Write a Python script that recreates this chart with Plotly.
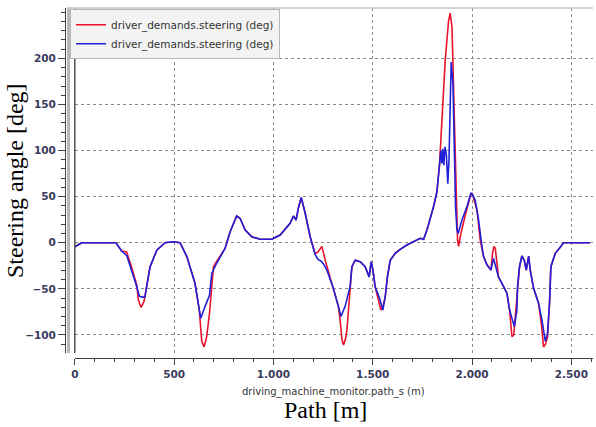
import plotly.graph_objects as go

# ---- data (path in m, steering angle in deg) ----
blue_s = [0, 35, 207, 236, 262, 287, 312, 325, 340, 353, 362, 379, 413, 454, 496, 530,
          564, 605, 627, 634, 656, 678, 690, 715, 757, 782, 815, 832, 857, 891, 933, 992,
          1034, 1084, 1101, 1114, 1126, 1140, 1160, 1185, 1210, 1225, 1240, 1255, 1270, 1302,
          1327, 1340, 1361, 1386, 1395, 1412, 1437, 1462, 1482, 1492, 1501, 1512, 1534,
          1551, 1563, 1574, 1588, 1613, 1638, 1672, 1739, 1756, 1773, 1806, 1823, 1836,
          1843, 1848, 1853, 1858, 1864, 1871, 1878, 1884, 1891, 1895, 1904, 1910, 1917,
          1924, 1930, 1949, 1974, 1994, 2000, 2016, 2033, 2050, 2058, 2075, 2095, 2108,
          2117, 2133, 2159, 2176, 2189, 2196, 2213, 2226, 2229, 2239, 2251, 2263, 2273,
          2285, 2293, 2310, 2335, 2352, 2369, 2380, 2390, 2397, 2419, 2436, 2461, 2595]
blue_deg = [-4.3, 0, 0, -9, -14, -29.6, -47.7, -58, -59, -59, -47.7, -26, -8, 0, 1, 0,
            -15, -44, -73, -82, -69, -57, -33, -22, -6, 12, 29, 26.5, 14, 6.5, 3.7, 3.7,
            8.4, 21, 29, 24.6, 38, 49, 32, 6.5, -13, -18, -20, -24, -30, -49.5,
            -69, -80, -69, -47.7, -26, -19, -20.6, -26, -37, -20.6, -29.6, -47.7, -60,
            -73, -58.6, -37, -19, -11.5, -7.2, -2.5, 4.8, 3.7, 13.8, 39, 55, 84,
            100, 86, 102, 84, 104, 95, 64, 90, 155, 196, 173, 111, 39,
            14, 10, 24.6, 39, 53.6, 53, 46, 24.6, -4.3, -15, -24, -29.6, -17,
            -24, -37, -47.7, -55, -73, -78.4, -91, -73, -47.7, -26, -14.4, -19, -29.6,
            -14.4, -29.6, -49.5, -65.7, -84, -107, -98, -65.7, -26, -11.5, -7.2, 0, 0]

red_s = [0, 35, 207, 236, 261, 287, 312, 320, 333, 342, 349, 362, 379, 413, 454, 496, 530,
         564, 605, 627, 639, 651, 664, 678, 690, 698, 715, 757, 782, 815, 832, 857, 891,
         933, 992, 1034, 1084, 1101, 1114, 1126, 1140, 1160, 1185, 1210, 1225, 1244, 1262,
         1280, 1302, 1327, 1336, 1345, 1353, 1362, 1370, 1383, 1390, 1395, 1412, 1437,
         1462, 1482, 1492, 1501, 1512, 1530, 1541, 1551, 1563, 1574, 1588, 1613, 1638,
         1672, 1739, 1756, 1773, 1806, 1823, 1836, 1840, 1853, 1865, 1882, 1890, 1899,
         1907, 1915, 1920, 1927, 1932, 1944, 1966, 1991, 2000, 2025, 2041, 2058, 2075,
         2095, 2103, 2110, 2117, 2125, 2133, 2159, 2176, 2189, 2196, 2201, 2210, 2221,
         2229, 2239, 2251, 2263, 2273, 2285, 2293, 2310, 2335, 2350, 2360, 2370, 2380,
         2390, 2397, 2419, 2436, 2461, 2595]
red_deg = [-4.3, 0, 0, -9, -10, -27, -46, -62, -70, -67, -63, -47, -26, -8, 0, 1, 0,
           -15, -44, -73, -107, -113, -102, -77, -40, -26, -20, -6, 12, 29, 26.5, 14, 6.5,
           3.7, 3.7, 8.4, 21, 29, 24.6, 38, 49, 32, 6.5, -12, -10, -4, -20,
           -33, -49, -69, -84, -105, -111, -105, -95, -58, -33, -26, -19, -20.6,
           -26, -37, -20.6, -29.6, -47.7, -62, -73, -70, -58.6, -37, -19, -11.5, -7.2,
           -2.5, 4.8, 3.7, 13.8, 39, 55, 84, 100, 144, 198, 241, 249, 234,
           173, 100, 46, 3, -4, 10, 30, 50, 54, 35.5, 3, -15, -24,
           -29.6, -12, -4, -6, -25, -37, -47.7, -55, -73, -95, -102, -100, -73,
           -47.7, -26, -14.4, -19, -29.6, -14.4, -29.6, -49.5, -65.7, -90, -113, -110, -102,
           -65.7, -26, -11.5, -7.2, 0, 0]

series_name = "driver_demands.steering (deg)"
x_tickvals = [0, 500, 1000, 1500, 2000, 2500]
x_ticktext = ["0", "500", "1.000", "1.500", "2.000", "2.500"]
y_tickvals = [-100, -50, 0, 50, 100, 150, 200]

W, H = 596, 427
ML, MR, MT, MB = 65, 3, 8, 69
PW, PH = W - ML - MR, H - MT - MB


def px_x(p):
    return (p - ML) / PW


def px_y(p):
    return (H - MB - p) / PH


fig = go.Figure()
fig.add_trace(go.Scatter(x=red_s, y=red_deg, mode="lines", name=series_name,
                         line=dict(color="#e8132b", width=1.6)))
fig.add_trace(go.Scatter(x=blue_s, y=blue_deg, mode="lines", name=series_name,
                         line=dict(color="#2020d8", width=1.6)))

tick_font = dict(family="DejaVu Sans", size=10.5, color="#3a3a5c", weight="bold")

fig.update_layout(
    width=W, height=H,
    margin=dict(l=ML, r=MR, t=MT, b=MB),
    paper_bgcolor="white", plot_bgcolor="white",
    showlegend=True,
    legend=dict(x=px_x(70), y=px_y(9.3), xanchor="left", yanchor="top",
                bgcolor="#f3f3f3", bordercolor="#b8b8b8", borderwidth=1,
                font=dict(family="DejaVu Sans", size=10.5, color="#333333")),
    xaxis=dict(domain=[px_x(74.8), 1], range=[0, 2609],
               anchor="free", position=0,
               showline=True, linecolor="#404040", linewidth=1,
               ticks="outside", ticklen=6, tickcolor="#404040",
               tickvals=x_tickvals, ticktext=x_ticktext, tickfont=tick_font,
               showgrid=True, gridcolor="#8a8a8a", griddash="dot", gridwidth=1,
               minor=dict(dtick=100, ticks="outside", ticklen=3, tickcolor="#404040",
                          showgrid=False),
               zeroline=False),
    yaxis=dict(domain=[px_y(353), 1], range=[-119.6, 254.6],
               anchor="free", position=0,
               showline=True, linecolor="#404040", linewidth=1,
               ticks="outside", ticklen=7, tickcolor="#404040",
               tickvals=y_tickvals, tickfont=tick_font,
               showgrid=True, gridcolor="#8a8a8a", griddash="dot", gridwidth=1,
               minor=dict(dtick=10, ticks="outside", ticklen=4, tickcolor="#404040",
                          showgrid=False),
               zeroline=False),
    shapes=[
        dict(type="line", xref="paper", yref="paper", x0=px_x(68.5), x1=px_x(68.5),
             y0=px_y(353), y1=1, line=dict(color="#b8b8b8", width=3)),
        dict(type="line", xref="paper", yref="paper", x0=px_x(74.8), x1=px_x(74.8),
             y0=px_y(353), y1=1, line=dict(color="#505050", width=1.5)),
        dict(type="line", xref="paper", yref="paper", x0=px_x(67), x1=1,
             y0=1, y1=1, line=dict(color="#c4c4c4", width=1.5)),
    ],
    annotations=[
        dict(text="Steering angle [deg]", xref="paper", yref="paper",
             x=px_x(15), y=px_y(181), xanchor="center", yanchor="middle",
             textangle=-90, showarrow=False,
             font=dict(family="Liberation Serif", size=24, color="black")),
        dict(text="driving_machine_monitor.path_s (m)", xref="paper", yref="paper",
             x=px_x(333), y=px_y(392), xanchor="center", yanchor="middle",
             showarrow=False,
             font=dict(family="DejaVu Sans", size=10, color="#333333")),
        dict(text="Path [m]", xref="paper", yref="paper",
             x=px_x(325), y=px_y(410), xanchor="center", yanchor="middle",
             showarrow=False,
             font=dict(family="Liberation Serif", size=24, color="black")),
    ],
)

fig.write_html("out.html",
               config={"displayModeBar": False},
               post_script="document.body.style.margin='0px';document.body.style.overflow='hidden';")
